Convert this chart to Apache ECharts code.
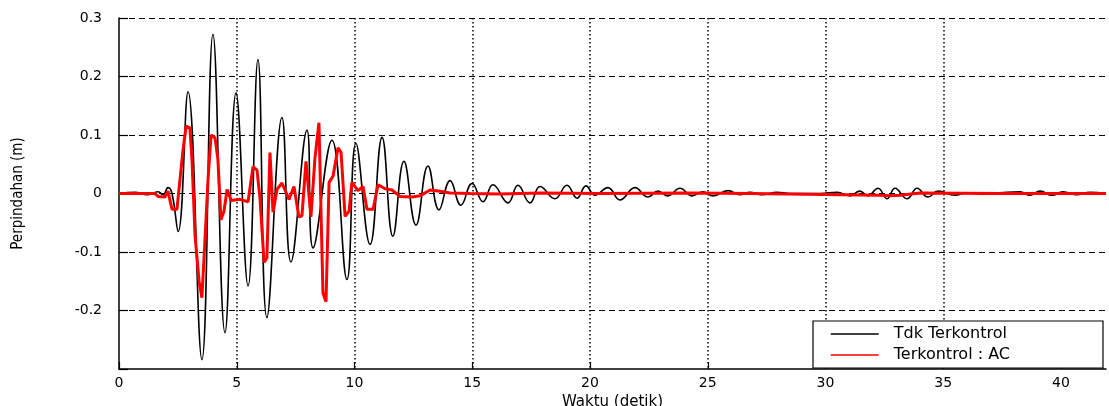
<!DOCTYPE html>
<html>
<head>
<meta charset="utf-8">
<script src="https://cdn.jsdelivr.net/npm/echarts@6/dist/echarts.min.js"></script>
<style>
html,body{margin:0;padding:0;background:#fff;}
#chart{width:1109px;height:406px;}
</style>
</head>
<body>
<div id="chart"></div>
<script>
// Time (s) and displacement (m)
const seriesNames = ['Tdk Terkontrol', 'Terkontrol : AC'];
const xTicks = [0, 5, 10, 15, 20, 25, 30, 35, 40];
const yTicks = [-0.3, -0.2, -0.1, 0, 0.1, 0.2, 0.3];
const yTickLabels = ['', '-0.2', '-0.1', '0', '0.1', '0.2', '0.3'];

const uncontrolledT = [0.00,0.68,1.19,1.66,1.87,2.08,2.25,2.51,2.93,3.52,3.99,4.50,4.97,5.48,5.90,6.28,6.92,7.30,7.98,8.24,9.04,9.68,10.06,10.66,11.17,11.63,12.10,12.61,13.12,13.59,14.06,14.52,14.99,15.46,15.88,16.52,16.94,17.45,17.88,18.51,19.02,19.45,19.83,20.21,20.76,21.27,21.91,22.46,22.89,23.31,23.82,24.33,24.80,25.22,25.86,26.37,26.79,27.30,27.94,28.49,29.77,30.49,31.04,31.46,31.80,32.23,32.61,32.95,33.46,33.89,34.35,34.78,35.50,36.01,36.77,37.41,38.26,38.68,39.11,39.62,40.08,40.68,41.23,41.91];
const uncontrolledV = [0,0.002,-0.002,0.003,-0.002,0.010,0.0,-0.065,0.174,-0.284,0.272,-0.238,0.172,-0.158,0.229,-0.212,0.130,-0.117,0.108,-0.093,0.091,-0.147,0.086,-0.087,0.096,-0.073,0.055,-0.054,0.047,-0.028,0.022,-0.020,0.017,-0.014,0.015,-0.016,0.014,-0.016,0.012,-0.009,0.014,-0.008,0.013,-0.003,0.010,-0.011,0.010,-0.006,0.004,-0.004,0.009,-0.004,0.003,-0.004,0.005,-0.002,0.002,-0.002,0.002,0,0,0.002,-0.004,0.004,-0.004,0.009,-0.009,0.009,-0.009,0.009,-0.006,0.004,-0.003,0.001,-0.001,0.001,0.003,-0.003,0.004,-0.003,0.003,-0.002,0.002,0];

const controlledT = [0.00,1.53,1.66,1.95,2.08,2.25,2.46,2.59,2.72,2.85,3.01,3.10,3.23,3.40,3.52,3.65,3.78,3.91,4.08,4.20,4.33,4.46,4.59,4.76,5.14,5.48,5.69,5.86,5.99,6.16,6.28,6.41,6.54,6.71,6.92,7.22,7.43,7.64,7.77,7.94,8.15,8.32,8.49,8.66,8.79,8.92,9.09,9.30,9.43,9.60,9.77,9.89,10.15,10.36,10.53,10.79,11.00,11.30,11.59,11.93,12.44,12.78,13.21,13.63,14.06,14.90,16.18,17.88,20.42,24.25,26.79,32.31,32.74,33.16,34.01,37.41,41.91];
const controlledV = [0,0,-0.005,-0.006,0.004,-0.027,-0.027,0.024,0.075,0.115,0.112,0.058,-0.073,-0.150,-0.178,-0.080,0.024,0.100,0.095,0.058,-0.045,-0.030,0.007,-0.012,-0.010,-0.014,0.046,0.040,-0.010,-0.118,-0.110,0.070,-0.032,0.007,0.018,-0.010,0.012,-0.040,-0.038,0.055,-0.040,0.060,0.121,-0.170,-0.185,0.019,0.030,0.078,0.070,-0.039,-0.030,0.019,0.005,0.012,-0.027,-0.027,0.015,0.008,0.006,-0.005,-0.006,-0.004,0.006,0.004,0.001,0,-0.001,0.001,0,0.001,0,-0.003,-0.004,-0.003,0.001,0,0];

const pair = (t, v) => t.map((x, i) => [x, v[i]]);

const font = 'DejaVu Sans';
const chart = echarts.init(document.getElementById('chart'), null, {renderer: 'canvas'});
chart.setOption({
  animation: false,
  backgroundColor: '#ffffff',
  grid: {left: 119, right: 3, top: 18, bottom: 37, containLabel: false, outerBoundsMode: 'none'},
  legend: {
    orient: 'vertical',
    left: 813, top: 321,
    data: seriesNames,
    itemWidth: 48, itemHeight: 14, itemGap: 5,
    padding: [5, 93, 5, 17],
    backgroundColor: '#ffffff',
    borderColor: '#000000', borderWidth: 1.2, borderRadius: 0,
    itemStyle: {opacity: 0},
    lineStyle: {width: 1.5},
    textStyle: {fontFamily: font, fontSize: 16, color: '#000', padding: [0, 0, 0, 10]}
  },
  xAxis: {
    type: 'value', min: 0, max: 41.91, interval: 5,
    name: 'Waktu (detik)', nameLocation: 'middle', nameGap: 21,
    nameTextStyle: {fontFamily: font, fontSize: 15, color: '#000'},
    axisLine: {show: true, onZero: false, lineStyle: {color: '#000', width: 1.5}},
    axisTick: {show: true, inside: true, length: 7, lineStyle: {color: '#000', width: 1.2}, customValues: xTicks},
    axisLabel: {fontFamily: font, fontSize: 14, color: '#000', margin: 7, customValues: xTicks,
      formatter: v => String(v)},
    splitLine: {show: true, showMinLine: false, showMaxLine: false,
      lineStyle: {color: '#000', type: [1.5, 2.5], width: 1.5}}
  },
  yAxis: {
    type: 'value', min: -0.3, max: 0.3, interval: 0.1,
    name: 'Perpindahan (m)', nameLocation: 'middle', nameGap: 93,
    nameTextStyle: {fontFamily: '"Liberation Sans Narrow", "DejaVu Sans Condensed", sans-serif', fontSize: 15, color: '#000'},
    axisLine: {show: true, lineStyle: {color: '#000', width: 1.5}},
    axisTick: {show: true, inside: true, length: 9, lineStyle: {color: '#000', width: 1.2}},
    axisLabel: {fontFamily: font, fontSize: 14, color: '#000', margin: 17,
      formatter: v => {
        let best = 0, d = 1e9;
        yTicks.forEach((t, i) => { const e = Math.abs(t - v); if (e < d) { d = e; best = i; } });
        return yTickLabels[best];
      }},
    splitLine: {show: true, showMinLine: false,
      lineStyle: {color: '#000', type: [6, 4], width: 1.2}}
  },
  series: [
    {
      name: seriesNames[0], type: 'line', data: pair(uncontrolledT, uncontrolledV),
      symbol: 'none', smooth: 0.45,
      lineStyle: {color: '#000000', width: 1.6},
      itemStyle: {color: '#000000'}, z: 3
    },
    {
      name: seriesNames[1], type: 'line', data: pair(controlledT, controlledV),
      symbol: 'none', smooth: false,
      lineStyle: {color: '#ff0000', width: 3},
      itemStyle: {color: '#ff0000'}, z: 4
    }
  ]
});
</script>
</body>
</html>
